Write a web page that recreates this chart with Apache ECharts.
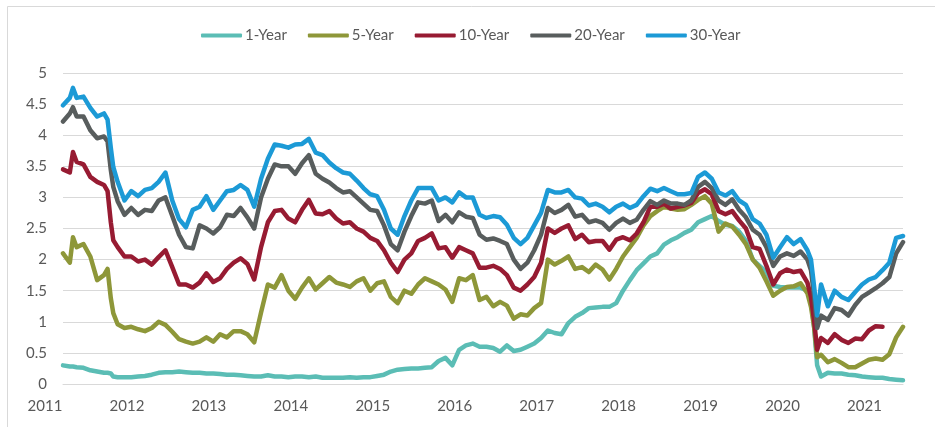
<!DOCTYPE html>
<html>
<head>
<meta charset="utf-8">
<script src="https://cdn.jsdelivr.net/npm/echarts@6/dist/echarts.min.js"></script>
<style>
html,body{margin:0;padding:0;background:#fff;}
#chart{width:935px;height:427px;}
</style>
</head>
<body>
<div id="chart"></div>
<script>
const seriesNames = ['1-Year', '5-Year', '10-Year', '20-Year', '30-Year'];
const yTicks = [0, 0.5, 1, 1.5, 2, 2.5, 3, 3.5, 4, 4.5, 5];

const dates = [
'2011-01','2011-02','2011-02-15','2011-03','2011-04','2011-05','2011-06','2011-07','2011-07-17','2011-08','2011-08-12','2011-09','2011-10','2011-11','2011-12',
'2012-01','2012-02','2012-03','2012-04','2012-05','2012-06','2012-07','2012-08','2012-09','2012-10','2012-11','2012-12',
'2013-01','2013-02','2013-03','2013-04','2013-05','2013-06','2013-07','2013-08','2013-09','2013-10','2013-11','2013-12',
'2014-01','2014-02','2014-03','2014-04','2014-05','2014-06','2014-07','2014-08','2014-09','2014-10','2014-11','2014-12',
'2015-01','2015-02','2015-03','2015-04','2015-05','2015-06','2015-07','2015-08','2015-09','2015-10','2015-11','2015-12',
'2016-01','2016-02','2016-03','2016-04','2016-05','2016-06','2016-07','2016-08','2016-09','2016-10','2016-11','2016-12',
'2017-01','2017-02','2017-03','2017-04','2017-05','2017-06','2017-07','2017-08','2017-09','2017-10','2017-11','2017-12',
'2018-01','2018-02','2018-03','2018-04','2018-05','2018-06','2018-07','2018-08','2018-09','2018-10','2018-11','2018-12',
'2019-01','2019-02','2019-03','2019-04','2019-05','2019-06','2019-07','2019-08','2019-09','2019-10','2019-11','2019-12',
'2020-01','2020-02','2020-02-17','2020-03','2020-03-14','2020-04','2020-05','2020-06','2020-07','2020-08','2020-09','2020-10','2020-11','2020-12',
'2021-01','2021-02','2021-03','2021-04'
];

const y1 = [
0.3,0.28,0.28,0.27,0.26,0.22,0.2,0.18,0.18,0.17,0.12,0.11,0.11,0.11,0.12,
0.13,0.15,0.18,0.19,0.19,0.2,0.19,0.18,0.18,0.17,0.17,0.16,
0.15,0.15,0.14,0.13,0.12,0.12,0.14,0.12,0.12,0.11,0.12,0.12,
0.11,0.12,0.1,0.1,0.1,0.1,0.11,0.1,0.11,0.11,0.13,0.15,
0.2,0.23,0.24,0.25,0.25,0.26,0.27,0.37,0.42,0.3,0.55,0.62,
0.65,0.6,0.6,0.58,0.52,0.62,0.53,0.55,0.6,0.65,0.74,0.86,
0.82,0.8,0.98,1.08,1.14,1.22,1.23,1.24,1.24,1.3,1.5,1.67,
1.83,1.94,2.05,2.1,2.24,2.31,2.36,2.43,2.48,2.6,2.65,2.7,
2.62,2.56,2.54,2.45,2.3,2.0,1.9,1.8,1.58,1.56,1.55,1.55,
1.55,1.5,1.35,0.9,0.3,0.12,0.18,0.17,0.17,0.15,0.14,0.12,0.11,0.1,
0.1,0.08,0.07,0.06
];

const y5 = [
2.1,1.95,2.36,2.2,2.25,2.05,1.67,1.75,1.85,1.38,1.14,0.96,0.9,0.92,0.88,
0.85,0.9,1.0,0.95,0.84,0.72,0.68,0.65,0.68,0.75,0.68,0.8,
0.75,0.85,0.85,0.8,0.67,1.15,1.6,1.55,1.75,1.5,1.37,1.55,
1.7,1.52,1.62,1.72,1.63,1.6,1.56,1.65,1.7,1.5,1.62,1.65,
1.4,1.3,1.5,1.45,1.6,1.7,1.65,1.6,1.52,1.32,1.7,1.67,
1.75,1.35,1.4,1.25,1.32,1.26,1.05,1.12,1.1,1.22,1.3,2.0,
1.92,1.98,2.05,1.85,1.88,1.8,1.92,1.84,1.68,1.85,2.05,2.2,
2.35,2.55,2.7,2.78,2.85,2.82,2.8,2.81,2.88,2.96,3.02,2.9,
2.45,2.58,2.53,2.4,2.25,2.0,1.87,1.65,1.42,1.5,1.56,1.57,
1.62,1.46,1.24,0.9,0.43,0.47,0.35,0.4,0.34,0.27,0.27,0.33,0.39,0.41,
0.39,0.48,0.75,0.92
];

const y10 = [
3.45,3.4,3.73,3.57,3.53,3.33,3.25,3.2,3.1,2.6,2.31,2.2,2.05,2.05,1.97,
2.0,1.92,2.04,2.15,1.88,1.6,1.6,1.55,1.63,1.78,1.64,1.7,
1.85,1.95,2.02,1.93,1.68,2.2,2.6,2.78,2.8,2.66,2.6,2.8,
2.96,2.74,2.73,2.78,2.66,2.58,2.6,2.5,2.45,2.35,2.3,2.15,
1.95,1.8,2.0,2.1,2.3,2.35,2.42,2.18,2.2,2.03,2.2,2.15,
2.1,1.87,1.87,1.9,1.85,1.75,1.55,1.5,1.6,1.72,1.95,2.5,
2.43,2.5,2.55,2.33,2.4,2.28,2.3,2.3,2.16,2.32,2.36,2.31,
2.42,2.6,2.85,2.85,2.9,2.82,2.85,2.87,2.91,3.07,3.13,3.05,
2.78,2.73,2.78,2.63,2.5,2.2,2.17,1.9,1.6,1.78,1.84,1.8,
1.82,1.63,1.4,1.0,0.55,0.74,0.66,0.8,0.71,0.66,0.73,0.72,0.86,0.93,
0.92,null,null,null
];

const y20 = [
4.22,4.35,4.45,4.3,4.3,4.08,3.95,3.98,3.9,3.44,3.17,2.94,2.72,2.83,2.72,
2.8,2.78,2.95,3.0,2.7,2.4,2.2,2.18,2.55,2.5,2.42,2.52,
2.72,2.7,2.83,2.68,2.5,3.0,3.3,3.53,3.5,3.5,3.38,3.55,
3.68,3.38,3.3,3.24,3.15,3.08,3.1,3.0,2.9,2.8,2.78,2.55,
2.25,2.15,2.45,2.7,2.92,2.9,2.95,2.62,2.72,2.6,2.76,2.69,
2.67,2.4,2.32,2.34,2.3,2.25,2.0,1.85,1.95,2.15,2.4,2.83,
2.75,2.8,2.88,2.69,2.72,2.6,2.63,2.59,2.48,2.59,2.66,2.59,
2.64,2.8,2.94,2.88,2.95,2.9,2.9,2.88,2.95,3.17,3.25,3.15,
2.95,2.88,2.97,2.8,2.68,2.48,2.4,2.2,1.9,2.05,2.1,2.06,
2.13,2.0,1.83,1.4,0.9,1.1,1.03,1.22,1.19,1.1,1.27,1.4,1.47,1.54,
1.62,1.72,2.1,2.28
];

const y30 = [
4.48,4.6,4.76,4.6,4.62,4.44,4.3,4.35,4.25,3.8,3.49,3.25,2.95,3.1,3.02,
3.12,3.15,3.25,3.4,2.95,2.65,2.52,2.8,2.85,3.02,2.8,2.95,
3.1,3.12,3.2,3.12,2.85,3.3,3.62,3.85,3.83,3.8,3.85,3.86,
3.94,3.72,3.68,3.56,3.47,3.4,3.38,3.27,3.15,3.05,3.02,2.8,
2.5,2.4,2.7,2.95,3.15,3.15,3.15,2.95,3.0,2.92,3.08,3.0,
3.0,2.72,2.67,2.7,2.68,2.56,2.35,2.25,2.35,2.55,2.75,3.12,
3.08,3.08,3.12,3.0,2.98,2.87,2.9,2.85,2.76,2.85,2.9,2.83,
2.88,3.02,3.14,3.1,3.15,3.1,3.05,3.05,3.07,3.33,3.4,3.3,
3.08,3.03,3.1,2.95,2.88,2.65,2.58,2.4,2.03,2.2,2.36,2.25,
2.33,2.15,2.0,1.55,1.1,1.6,1.25,1.5,1.4,1.35,1.48,1.6,1.68,1.72,
1.83,1.95,2.35,2.38
];

const colors = ['#5BBDB5', '#8E9739', '#971B32', '#585D5D', '#1C9AD6'];

function toYear(s) {
  const p = s.split('-').map(Number);
  return p[0] + (p[1] - 1) / 12 + (p[2] ? (p[2] - 1) / 365 : 0);
}
const xs = dates.map(toYear);
const allVals = [y1, y5, y10, y20, y30];

const FONT = 'Lato';
const chart = echarts.init(document.getElementById('chart'), null, {renderer: 'canvas'});
chart.setOption({
  animation: false,
  backgroundColor: '#ffffff',
  color: colors,
  graphic: [{
    type: 'rect',
    shape: {x: 7.5, y: 6.5, width: 1000, height: 600},
    style: {fill: 'none', stroke: '#D9D9D9', lineWidth: 1},
    silent: true
  }],
  legend: {
    left: 196,
    top: 23,
    icon: 'roundRect',
    itemWidth: 41,
    itemHeight: 4,
    itemGap: 21,
    textStyle: {fontFamily: FONT, fontSize: 15, color: '#595959', padding: [0, 0, 0, -2]},
    data: seriesNames
  },
  grid: {left: 63, right: 32, top: 73, bottom: 43, containLabel: false},
  xAxis: {
    type: 'value',
    min: 2011,
    max: 2021.25,
    interval: 1,
    axisLine: {show: true, lineStyle: {color: '#D9D9D9', width: 1}},
    axisTick: {show: false},
    splitLine: {show: false},
    axisLabel: {
      showMaxLabel: false,
      margin: 15,
      color: '#595959',
      fontFamily: FONT,
      fontSize: 15,
      formatter: function (v) {
        if (Math.abs(v - Math.round(v)) > 1e-6) return '';
        return '{a|' + Math.round(v) + '}';
      },
      rich: {a: {fontFamily: FONT, fontSize: 15, color: '#595959', padding: [0, 36, 0, 0]}}
    }
  },
  yAxis: {
    type: 'value',
    min: yTicks[0],
    max: yTicks[yTicks.length - 1],
    interval: 0.5,
    axisLine: {show: false},
    axisTick: {show: false},
    splitLine: {show: true, lineStyle: {color: '#D9D9D9', width: 1}},
    axisLabel: {margin: 16, color: '#595959', fontFamily: FONT, fontSize: 15}
  },
  series: seriesNames.map(function (name, k) {
    return {
      name: name,
      type: 'line',
      showSymbol: false,
      symbol: 'none',
      smooth: false,
      connectNulls: false,
      lineStyle: {width: 4.5, color: colors[k], join: 'round', cap: 'round'},
      itemStyle: {color: colors[k]},
      z: 2 + k,
      data: xs.map(function (x, i) { return [x, allVals[k][i]]; })
    };
  })
});
</script>
</body>
</html>
